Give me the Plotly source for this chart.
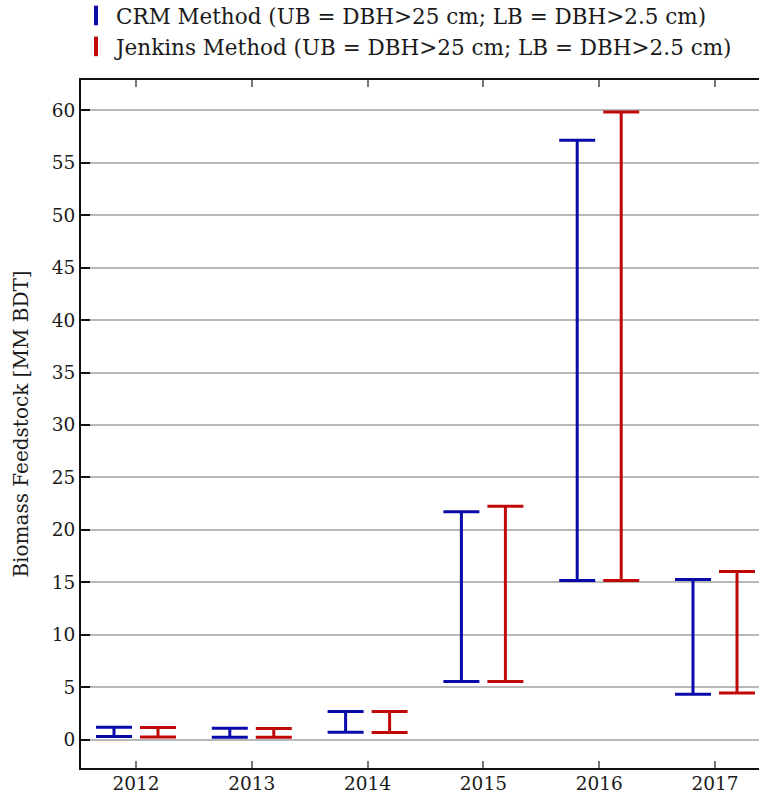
import plotly.graph_objects as go

years = ["2012", "2013", "2014", "2015", "2016", "2017"]
crm_lower = [0.30, 0.22, 0.70, 5.55, 15.17, 4.33]
crm_upper = [1.17, 1.08, 2.67, 21.72, 57.16, 15.27]
jen_lower = [0.25, 0.22, 0.68, 5.55, 15.17, 4.45]
jen_upper = [1.15, 1.05, 2.67, 22.26, 59.86, 16.03]

series = [
    ("CRM Method (UB = DBH>25 cm; LB = DBH>2.5 cm)", crm_lower, crm_upper, "#0a0aaa", "crm"),
    ("Jenkins Method (UB = DBH>25 cm; LB = DBH>2.5 cm)", jen_lower, jen_upper, "#c00808", "jen"),
]

FONT = "DejaVu Serif"
fig = go.Figure()
for name, lo, hi, col, grp in series:
    fig.add_trace(go.Scatter(
        x=years, y=lo, mode="markers", showlegend=False, offsetgroup=grp,
        marker=dict(size=1, opacity=0, color=col),
        error_y=dict(type="data", symmetric=False,
                     array=[h - l for h, l in zip(hi, lo)],
                     arrayminus=[0] * len(lo),
                     color=col, thickness=3, width=18),
        hoverinfo="skip",
    ))
for name, lo, hi, col, grp in series:
    fig.add_trace(go.Scatter(
        x=[None], y=[None], mode="markers", name=name, offsetgroup=grp,
        marker=dict(symbol="line-ns", size=14, line=dict(width=4, color=col), color=col),
    ))

fig.update_layout(
    width=770, height=795,
    margin=dict(l=81, r=0, t=80, b=27.3, autoexpand=False),
    plot_bgcolor="white", paper_bgcolor="white",
    scattermode="group", scattergap=0.24,
    font=dict(family=FONT, color="#1a1a1a", size=18),
    legend=dict(x=-0.00726, y=1.1236, xanchor="left", yanchor="top",
                font=dict(family=FONT, size=21.5, color="#1a1a1a"),
                bgcolor="rgba(0,0,0,0)", tracegroupgap=0),
    xaxis=dict(type="category", categoryorder="array", categoryarray=years,
               range=[-0.475, 5.475], showgrid=False, automargin=False,
               showline=True, linecolor="#111", linewidth=2, mirror="ticks",
               ticks="inside", ticklen=7, tickcolor="#777", tickwidth=1.5,
               ticklabelstandoff=-2,
               tickfont=dict(family=FONT, size=18.5, color="#1a1a1a"), zeroline=False),
    yaxis=dict(range=[-2.71, 62.9], tickvals=list(range(0, 61, 5)), automargin=False,
               showgrid=True, gridcolor="#b8b8b8", gridwidth=2,
               showline=True, linecolor="#111", linewidth=2, mirror=False,
               ticks="inside", ticklen=9, tickcolor="#111", tickwidth=1.5,
               tickfont=dict(family=FONT, size=18.5, color="#1a1a1a"), zeroline=False,
               title=dict(text="Biomass Feedstock [MM BDT]", standoff=18,
                          font=dict(family=FONT, size=20, color="#1a1a1a"))),
)

fig.write_html(
    "out.html",
    config={"displayModeBar": False},
    post_script="document.body.style.margin='0';document.body.style.overflow='hidden';",
)
